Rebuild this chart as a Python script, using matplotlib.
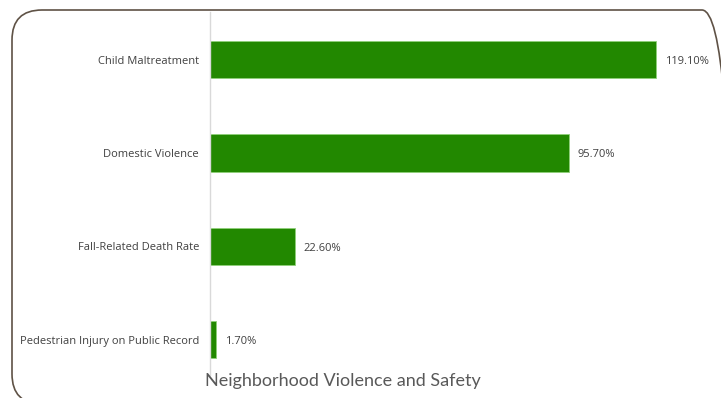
import matplotlib.pyplot as plt
from matplotlib.patches import FancyBboxPatch

# Neighborhood violence and safety indicators (percent)
categories = ['Pedestrian Injury on Public Record', 'Fall-Related Death Rate',
              'Domestic Violence', 'Child Maltreatment']
values = [1.7, 22.6, 95.7, 119.1]
value_labels = ['1.70%', '22.60%', '95.70%', '119.10%']

W, H = 721, 398
fig = plt.figure(figsize=(W / 100, H / 100), dpi=100)

# rounded frame around the chart, slightly clipped on the right and bottom (inches)
frame = FancyBboxPatch((0.12, -0.06), 7.20, 3.94,
                       boxstyle='round,pad=0,rounding_size=0.30',
                       transform=fig.dpi_scale_trans, fill=False,
                       edgecolor='#5f5246', linewidth=1.2, clip_on=False)
fig.patches.append(frame)

ax = fig.add_axes([210 / W, 1 - 375 / H, 490 / W, (375 - 12) / H])
ax.barh(range(len(categories)), values, height=0.4, color='#228800',
        edgecolor='#8fd07a', linewidth=0.6)

for i, (v, lab) in enumerate(zip(values, value_labels)):
    ax.text(v + 2.4, i - 0.02, lab, va='center', ha='left', fontsize=8,
            family='Open Sans', color='#404040')

ax.set_yticks(range(len(categories)))
ax.set_yticklabels(categories, fontsize=8, family='Open Sans', color='#404040')
ax.tick_params(axis='y', length=0, pad=8)
ax.set_xticks([])
ax.set_xlim(0, 130.8)
ax.set_ylim(-0.38, 3.51)
for side in ['top', 'right', 'bottom']:
    ax.spines[side].set_visible(False)
ax.spines['left'].set_color('#d9d9d9')
ax.spines['left'].set_linewidth(1.0)

fig.text(343 / W, 1 - 381 / H, 'Neighborhood Violence and Safety',
         ha='center', va='center', fontsize=13, family='Lato', color='#595959')

fig.savefig('out.png', dpi=100)
